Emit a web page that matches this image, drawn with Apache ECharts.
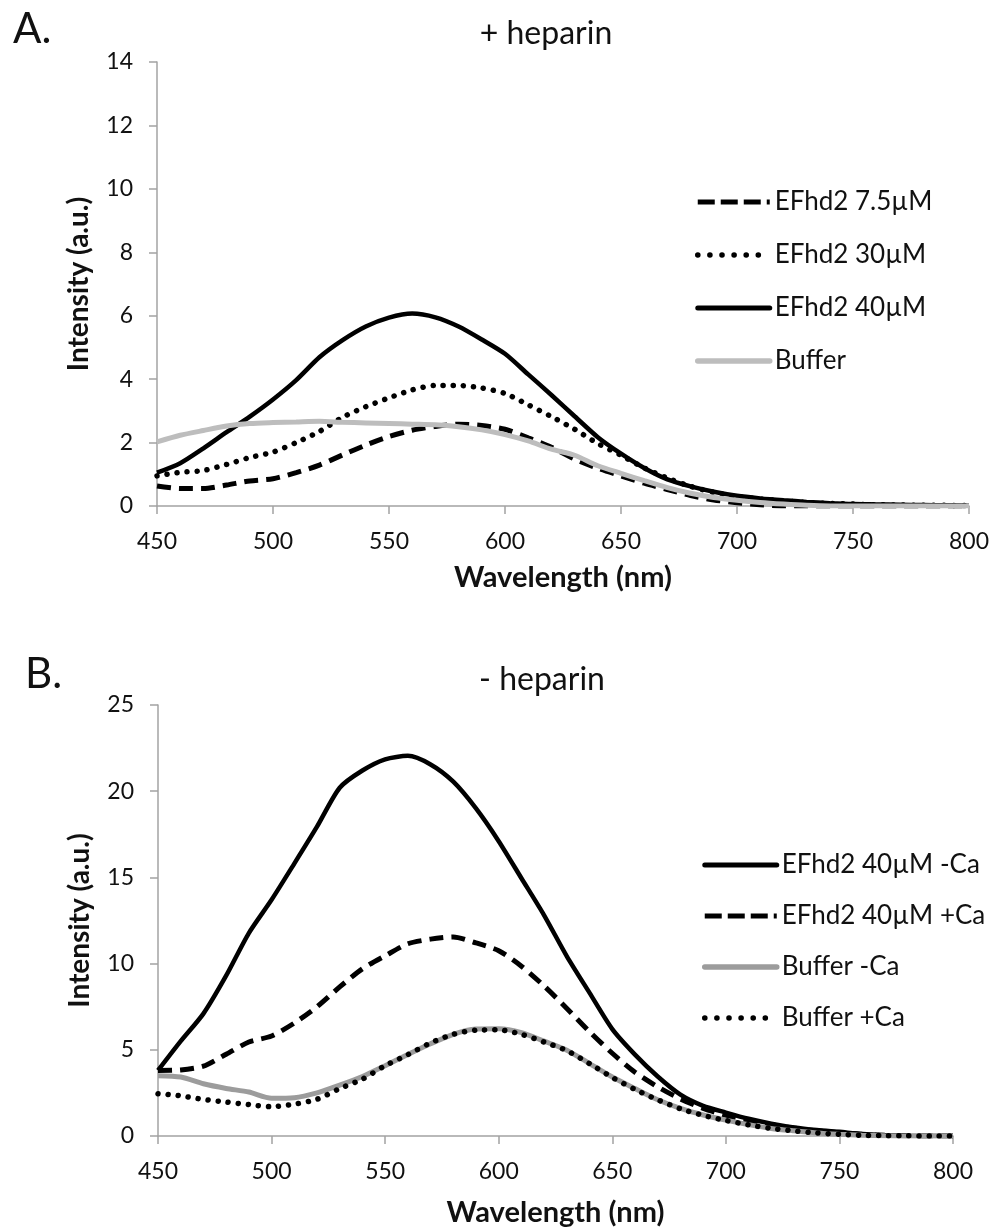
<!DOCTYPE html>
<html>
<head>
<meta charset="utf-8">
<script src="https://cdn.jsdelivr.net/npm/echarts@6/dist/echarts.min.js"></script>
<style>
html,body{margin:0;padding:0;background:#fff;}
#chart{width:992px;height:1228px;}
</style>
</head>
<body>
<div id="chart"></div>
<script>
// Wavelength grid (nm), shared by both panels
const wavelengths = [450,460,470,480,490,500,510,520,530,540,550,560,570,580,590,600,610,620,630,640,650,660,670,680,690,700,710,720,730,740,750,760,770,780,790,800];

// Panel A: + heparin
const titleA = '+ heparin';
const namesA = ['EFhd2 7.5µM', 'EFhd2 30µM', 'EFhd2 40µM', 'Buffer'];
const a_efhd2_7_5 = [0.63,0.55,0.55,0.66,0.79,0.86,1.05,1.29,1.61,1.92,2.19,2.39,2.51,2.58,2.54,2.42,2.15,1.85,1.48,1.19,0.95,0.72,0.52,0.33,0.19,0.1,0.04,0.0,0,0,0,0,0,0,0,0];
const a_efhd2_30 = [0.95,1.06,1.12,1.31,1.53,1.7,2.0,2.35,2.8,3.13,3.41,3.66,3.8,3.8,3.72,3.55,3.19,2.82,2.42,1.97,1.6,1.2,0.88,0.62,0.43,0.3,0.22,0.16,0.11,0.08,0.06,0.04,0.03,0.02,0.02,0.01];
const a_efhd2_40 = [1.05,1.35,1.82,2.33,2.82,3.36,3.97,4.69,5.23,5.66,5.94,6.07,5.95,5.66,5.25,4.8,4.15,3.5,2.83,2.17,1.65,1.2,0.84,0.62,0.45,0.32,0.24,0.18,0.13,0.09,0.06,0.05,0.04,0.03,0.02,0.01];
const a_buffer = [2.02,2.23,2.38,2.52,2.6,2.63,2.65,2.67,2.64,2.62,2.6,2.58,2.56,2.5,2.4,2.25,2.05,1.79,1.6,1.27,1.03,0.8,0.58,0.4,0.27,0.18,0.11,0.06,0.02,0,0,0,0,0,0,0];

// Panel B: - heparin
const titleB = '- heparin';
const namesB = ['EFhd2 40µM -Ca', 'EFhd2 40µM +Ca', 'Buffer -Ca', 'Buffer +Ca'];
const b_efhd2_minusCa = [3.8,5.5,7.1,9.3,11.77,13.7,15.8,17.94,20.2,21.2,21.85,22.05,21.55,20.55,19.0,17.1,14.95,12.8,10.42,8.3,6.2,4.72,3.45,2.4,1.75,1.36,1.0,0.72,0.5,0.35,0.24,0.12,0.05,0.01,0,0];
const b_efhd2_plusCa = [3.8,3.83,4.05,4.74,5.45,5.8,6.55,7.5,8.65,9.7,10.45,11.15,11.42,11.55,11.2,10.75,9.85,8.7,7.4,6.05,4.8,3.7,2.85,2.15,1.6,1.2,0.9,0.65,0.46,0.3,0.2,0.1,0.04,0.01,0,0];
const b_buffer_minusCa = [3.5,3.42,3.03,2.76,2.55,2.19,2.22,2.5,2.95,3.45,4.08,4.73,5.35,5.9,6.2,6.22,6.0,5.5,4.98,4.2,3.42,2.75,2.1,1.6,1.22,0.92,0.66,0.44,0.3,0.18,0.1,0.04,0.01,0,0,0];
const b_buffer_plusCa = [2.45,2.33,2.12,1.97,1.82,1.7,1.85,2.13,2.75,3.3,4.08,4.72,5.4,5.9,6.14,6.16,5.9,5.45,4.95,4.2,3.4,2.7,2.1,1.58,1.2,0.9,0.65,0.44,0.3,0.18,0.1,0.04,0.02,0.01,0,0];

// Axis ticks
const xTicks = {min: 450, max: 800, interval: 50};
const yTicksA = {min: 0, max: 14, interval: 2};
const yTicksB = {min: 0, max: 25, interval: 5};
const xAxisName = 'Wavelength (nm)';
const yAxisName = 'Intensity (a.u.)';

const FONT = 'Lato';
const AXIS_COLOR = '#a3a3a3';
const TEXT_COLOR = '#111';

function zip(xs, ys) { return xs.map((x, i) => [x, ys[i]]); }

function xAxisCfg(gridIndex, nameGap) {
  return {
    type: 'value', gridIndex: gridIndex,
    min: xTicks.min, max: xTicks.max, interval: xTicks.interval,
    name: xAxisName, nameLocation: 'middle', nameGap: nameGap,
    nameTextStyle: {fontFamily: FONT, fontWeight: 'bold', fontSize: 29, color: TEXT_COLOR},
    axisLine: {show: true, lineStyle: {color: AXIS_COLOR, width: 1.5}},
    axisTick: {show: true, length: 8, lineStyle: {color: AXIS_COLOR, width: 1.5}},
    axisLabel: {fontFamily: FONT, fontSize: 23, color: TEXT_COLOR, margin: 24},
    splitLine: {show: false}
  };
}
function yAxisCfg(gridIndex, t) {
  return {
    type: 'value', gridIndex: gridIndex,
    min: t.min, max: t.max, interval: t.interval,
    name: yAxisName, nameLocation: 'middle', nameGap: 64,
    nameTextStyle: {fontFamily: FONT, fontWeight: 'bold', fontSize: 28, color: TEXT_COLOR},
    axisLine: {show: true, lineStyle: {color: AXIS_COLOR, width: 1.5}},
    axisTick: {show: true, length: 8, lineStyle: {color: AXIS_COLOR, width: 1.5}},
    axisLabel: {fontFamily: FONT, fontSize: 23, color: TEXT_COLOR, margin: 24},
    splitLine: {show: false}
  };
}

const dashedStyle = {color: '#000', width: 5, type: [14, 8], cap: 'butt'};
const dottedStyle = {color: '#000', width: 5.5, type: [0.1, 10], cap: 'round'};
const solidStyle = {color: '#000', width: 4.5, type: 'solid'};
const grayA = {color: '#bdbdbd', width: 5, type: 'solid'};
const grayB = {color: '#9c9c9c', width: 5, type: 'solid'};

// legend icon line styles
const legDashed = {width: 5, type: [17, 6], cap: 'butt'};
const legDotted = {width: 5.5, type: [0.1, 12], cap: 'round'};
const legSolid = {width: 5, type: 'solid', cap: 'round'};
const legGray = {width: 5.5, type: 'solid', cap: 'round'};

function lineSeries(name, xi, data, style) {
  return {
    type: 'line', name: name, xAxisIndex: xi, yAxisIndex: xi,
    data: zip(wavelengths, data), showSymbol: false, symbol: 'none',
    smooth: 0.25, lineStyle: style, itemStyle: {color: style.color},
    emphasis: {disabled: true}, animation: false
  };
}

const legendCommon = {
  orient: 'vertical', itemWidth: 72, itemHeight: 26,
  textStyle: {fontFamily: FONT, fontSize: 26, color: TEXT_COLOR, lineHeight: 26},
  itemStyle: {opacity: 0},
  selectedMode: false
};

const option = {
  backgroundColor: '#fff',
  animation: false,
  title: [
    {text: titleA, left: 541, top: 10, textAlign: 'center',
     textStyle: {fontFamily: FONT, fontWeight: 'normal', fontSize: 32, color: TEXT_COLOR, lineHeight: 38}},
    {text: titleB, left: 537, top: 656, textAlign: 'center',
     textStyle: {fontFamily: FONT, fontWeight: 'normal', fontSize: 32, color: TEXT_COLOR, lineHeight: 38}}
  ],
  graphic: [
    {type: 'text', left: 13, top: 8, style: {text: 'A.', font: '42px Lato', fill: TEXT_COLOR}},
    {type: 'text', left: 25, top: 653, style: {text: 'B.', font: '42px Lato', fill: TEXT_COLOR}}
  ],
  grid: [
    {left: 157, top: 62, width: 812, height: 444},
    {left: 158, top: 705, width: 795, height: 431.5}
  ],
  xAxis: [xAxisCfg(0, 57), xAxisCfg(1, 62)],
  yAxis: [yAxisCfg(0, yTicksA), yAxisCfg(1, yTicksB)],
  legend: [
    Object.assign({}, legendCommon, {left: 690, top: 184, itemGap: 27, data: [
      {name: namesA[0], lineStyle: legDashed},
      {name: namesA[1], lineStyle: legDotted},
      {name: namesA[2], lineStyle: legSolid},
      {name: namesA[3], lineStyle: legGray}
    ]}),
    Object.assign({}, legendCommon, {left: 697, top: 847, itemGap: 25, data: [
      {name: namesB[0], lineStyle: legSolid},
      {name: namesB[1], lineStyle: legDashed},
      {name: namesB[2], lineStyle: legGray},
      {name: namesB[3], lineStyle: legDotted}
    ]})
  ],
  series: [
    lineSeries(namesA[0], 0, a_efhd2_7_5, dashedStyle),
    lineSeries(namesA[1], 0, a_efhd2_30, dottedStyle),
    lineSeries(namesA[2], 0, a_efhd2_40, solidStyle),
    lineSeries(namesA[3], 0, a_buffer, grayA),
    lineSeries(namesB[0], 1, b_efhd2_minusCa, solidStyle),
    lineSeries(namesB[1], 1, b_efhd2_plusCa, dashedStyle),
    lineSeries(namesB[2], 1, b_buffer_minusCa, grayB),
    lineSeries(namesB[3], 1, b_buffer_plusCa, dottedStyle)
  ]
};

const chart = echarts.init(document.getElementById('chart'), null, {renderer: 'canvas'});
chart.setOption(option);
</script>
</body>
</html>
